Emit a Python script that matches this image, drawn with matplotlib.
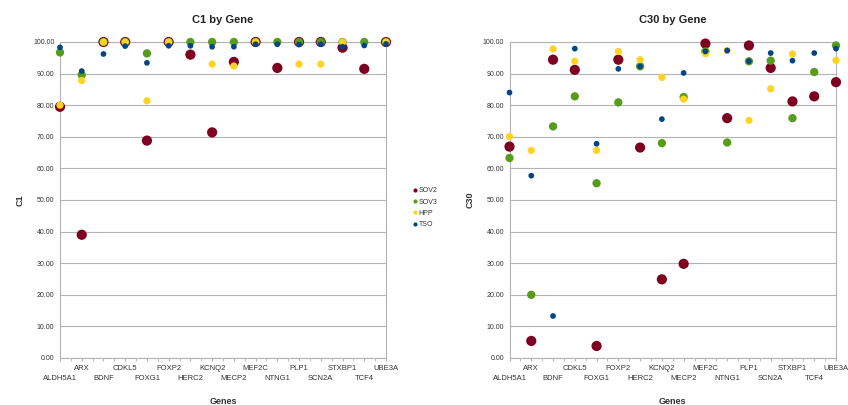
import numpy as np
import matplotlib
matplotlib.use("Agg")
import matplotlib.pyplot as plt
import matplotlib.transforms as mtransforms
from matplotlib.lines import Line2D

plt.rcParams['font.family'] = ['Liberation Sans', 'DejaVu Sans']

genes = ["ALDH5A1", "ARX", "BDNF", "CDKL5", "FOXG1", "FOXP2", "HERC2", "KCNQ2",
         "MECP2", "MEF2C", "NTNG1", "PLP1", "SCN2A", "STXBP1", "TCF4", "UBE3A"]
series_names = ["SOV2", "SOV3", "HPP", "TSO"]

nan = np.nan
# C1 values per method
c1_sov2 = [79.5, 39.0, 100, 100, 68.8, 100, 96.0, 71.4, 93.7, 100, 91.8, 100, 100, 98.2, 91.5, 100]
c1_sov3 = [96.7, 89.6, 100, 100, 96.4, 100, 100, 100, 100, 100, 100, 100, 100, 100, 100, 100]
c1_hpp = [80.0, 87.8, 100, 100, 81.4, 100, nan, 93.0, 92.4, 100, nan, 93.0, 93.0, 100, nan, 100]
c1_tso = [98.3, 90.8, 96.2, 98.7, 93.4, 98.8, 98.8, 98.5, 98.5, 99.3, 99.3, 99.2, 99.3, 98.5, 98.9, 99.4]

# C30 values per method
c30_sov2 = [66.9, 5.4, 94.4, 91.2, 3.8, 94.4, 66.6, 24.9, 29.8, 99.5, 75.9, 98.9, 91.8, 81.2, 82.8, 87.3]
c30_sov3 = [63.3, 20.0, 73.3, 82.8, 55.3, 80.9, 92.3, 68.0, 82.6, 97.0, 68.2, 93.9, 94.1, 75.9, 90.5, 98.9]
c30_hpp = [70.1, 65.7, 97.8, 93.9, 65.7, 97.0, 94.4, 88.8, 81.9, 96.3, 97.3, 75.2, 85.2, 96.2, nan, 94.2]
c30_tso = [84.0, 57.7, 13.3, 97.9, 67.8, 91.5, 92.3, 75.6, 90.2, 97.0, 97.3, 93.9, 96.5, 94.1, 96.5, 97.9]

colors = ["#7e0021", "#579d1c", "#ffd320", "#004586"]
sizes = [54, 36, 27, 17]
yticks = np.arange(0, 101, 10)

fig = plt.figure(figsize=(8.48, 4.05), dpi=100)
ax1 = fig.add_axes([60 / 848, 47 / 405, 326 / 848, 316 / 405])
ax2 = fig.add_axes([509.5 / 848, 47 / 405, 326.5 / 848, 316 / 405])

grid_col = "#b3b3b3"
text_col = "#333333"


def shifted(tr, dy_px):
    return tr + mtransforms.ScaledTranslation(0, dy_px / 72, fig.dpi_scale_trans)


def draw(ax, data, title, ylabel):
    x = np.arange(len(genes))
    for vals, col, s in zip(data, colors, sizes):
        ax.scatter(x, vals, s=s, color=col, edgecolors="none", zorder=3, clip_on=False)
    ax.set_xlim(0, len(genes) - 1)
    ax.set_ylim(0, 100)
    ax.set_yticks(yticks)
    ax.set_yticklabels([f"{v:.2f}" for v in yticks], fontsize=5, color=text_col)
    ax.yaxis.grid(True, color=grid_col, linewidth=0.8)
    ax.set_axisbelow(True)
    ax.tick_params(axis="y", length=0, pad=4)

    # category ticks, with the gene names staggered on two rows
    ax.set_xticks(x)
    ax.set_xticklabels([])
    ax.set_xticks(np.arange(0.5, len(genes) - 1, 1), minor=True)
    ax.tick_params(axis="x", which="both", length=2, color=grid_col)
    base = ax.get_xaxis_transform()
    for i, g in enumerate(genes):
        dy = -7.5 if i % 2 else -15
        ax.text(i, 0, g, transform=shifted(base, dy), ha="center", va="center",
                fontsize=5.5, color=text_col)

    for sp in ax.spines.values():
        sp.set_color(grid_col)
        sp.set_linewidth(0.8)
    ax.set_title(title, fontsize=8, fontweight="bold", color="#222222", pad=14)
    ax.text(0.5, 0, "Genes", transform=shifted(ax.transAxes, -31),
            ha="center", va="center", fontsize=6.5, fontweight="bold", color=text_col)
    ax.set_ylabel(ylabel, fontsize=6.5, fontweight="bold", color=text_col, labelpad=6)


draw(ax1, [c1_sov2, c1_sov3, c1_hpp, c1_tso], "C1 by Gene", "C1")
draw(ax2, [c30_sov2, c30_sov3, c30_hpp, c30_tso], "C30 by Gene", "C30")

handles = [Line2D([], [], linestyle="none", marker="o", markersize=3,
                  markerfacecolor=c, markeredgecolor="none") for c in colors]
fig.legend(handles, series_names, loc="upper left", bbox_to_anchor=(409 / 848, 1 - 184 / 405),
           frameon=False, fontsize=5, handlelength=0.6, handletextpad=0.3,
           labelspacing=0.6, borderpad=0, labelcolor=text_col)

fig.savefig("out.png", dpi=100)
